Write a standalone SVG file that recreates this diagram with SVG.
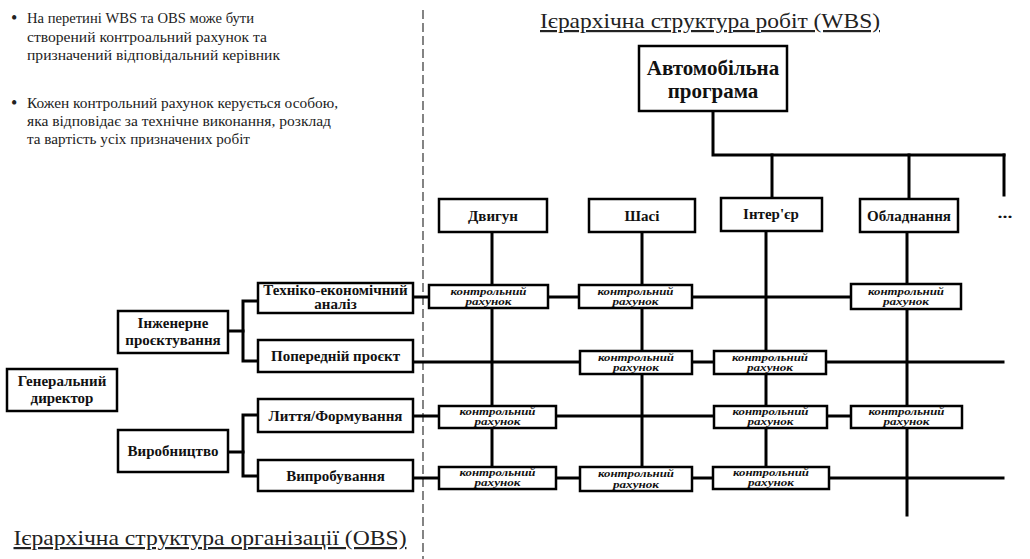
<svg xmlns="http://www.w3.org/2000/svg" width="1030" height="559" viewBox="0 0 1030 559">
  <style>
    .box { fill: #fff; stroke: #000; stroke-width: 2.5; }
    .wire { fill: none; stroke: #000; stroke-width: 3; stroke-linecap: square; }
    .sep { fill: none; stroke: #333; stroke-width: 1.2; stroke-dasharray: 9 4; }
    .lbl { font-family: "Liberation Serif", "DejaVu Serif", serif; font-weight: bold; font-size: 15px; fill: #111; text-anchor: middle; }
    .big { font-size: 21px; }
    .ca { font-family: "Liberation Serif", "DejaVu Serif", serif; font-weight: bold; font-style: italic; font-size: 10.5px; fill: #111; text-anchor: middle; }
    .note { font-family: "Liberation Serif", "DejaVu Serif", serif; font-size: 15px; fill: #222; }
    .bullet { font-family: "Liberation Serif", "DejaVu Serif", serif; font-size: 18px; fill: #222; }
    .title { font-family: "Liberation Serif", "DejaVu Serif", serif; font-size: 22px; fill: #222; text-decoration: underline; text-anchor: middle; }
  </style>

  <!-- notes -->
  <g id="notes">
    <text class="bullet" x="11" y="24">•</text>
    <text class="note" x="27" y="23" textLength="227" lengthAdjust="spacingAndGlyphs">На перетині WBS та OBS може бути</text>
    <text class="note" x="27" y="42" textLength="240" lengthAdjust="spacingAndGlyphs">створений контроальний рахунок та</text>
    <text class="note" x="27" y="60" textLength="253" lengthAdjust="spacingAndGlyphs">призначений відповідальний керівник</text>
    <text class="bullet" x="11" y="109">•</text>
    <text class="note" x="27" y="108" textLength="311" lengthAdjust="spacingAndGlyphs">Кожен контрольний рахунок керується особою,</text>
    <text class="note" x="27" y="126" textLength="304" lengthAdjust="spacingAndGlyphs">яка відповідає за технічне виконання, розклад</text>
    <text class="note" x="27" y="144" textLength="223" lengthAdjust="spacingAndGlyphs">та вартість усіх призначених робіт</text>
  </g>

  <!-- section titles and divider -->
  <text class="title" x="710" y="28" textLength="340" lengthAdjust="spacingAndGlyphs">Ієрархічна структура робіт (WBS)</text>
  <text class="title" x="210" y="545" textLength="393" lengthAdjust="spacingAndGlyphs">Ієрархічна структура організації (OBS)</text>
  <line class="sep" x1="423" y1="10" x2="423" y2="559"/>

  <!-- connectors -->
  <g id="connectors" class="wire">
    <!-- WBS tree -->
    <polyline points="713,111 713,155 1004,155"/>
    <line x1="772" y1="155" x2="772" y2="198"/>
    <line x1="909" y1="155" x2="909" y2="199"/>
    <line x1="1004" y1="155" x2="1004" y2="195"/>
    <!-- OBS tree -->
    <polyline points="228,331 243,331"/>
    <polyline points="258,301 243,301 243,361 258,361"/>
    <polyline points="228,452 243,452"/>
    <polyline points="258,415 243,415 243,476 258,476"/>
    <!-- work package columns -->
    <line x1="492" y1="232" x2="492" y2="467"/>
    <line x1="642" y1="232" x2="642" y2="467"/>
    <line x1="766" y1="231" x2="766" y2="467"/>
    <line x1="907" y1="232" x2="907" y2="515"/>
    <!-- organisation rows -->
    <line x1="413" y1="297" x2="851" y2="297"/>
    <line x1="413" y1="362" x2="1003" y2="362"/>
    <line x1="413" y1="416" x2="851" y2="416"/>
    <line x1="413" y1="478" x2="1003" y2="478"/>
  </g>

  <!-- WBS nodes -->
  <g id="auto-program">
    <rect class="box" x="639" y="46" width="148" height="65"/>
    <text class="lbl big" x="713" y="75">Автомобільна</text>
    <text class="lbl big" x="713" y="98">програма</text>
  </g>
  <g id="engine">
    <rect class="box" x="439" y="199" width="108" height="33"/>
    <text class="lbl" x="493" y="221">Двигун</text>
  </g>
  <g id="chassis">
    <rect class="box" x="589" y="199" width="106" height="33"/>
    <text class="lbl" x="642" y="221">Шасі</text>
  </g>
  <g id="interior">
    <rect class="box" x="721" y="198" width="101" height="33"/>
    <text class="lbl" x="771" y="219">Інтер'єр</text>
  </g>
  <g id="equipment">
    <rect class="box" x="860" y="199" width="98" height="33"/>
    <text class="lbl" x="909" y="221">Обладнання</text>
  </g>
  <g id="more">
    <text class="lbl" x="1005" y="218" font-size="20" textLength="15" lengthAdjust="spacingAndGlyphs">...</text>
  </g>

  <!-- OBS nodes -->
  <g id="ceo">
    <rect class="box" x="7" y="369" width="110" height="42"/>
    <text class="lbl" x="62" y="386">Генеральний</text>
    <text class="lbl" x="62" y="403">директор</text>
  </g>
  <g id="engineering">
    <rect class="box" x="118" y="311" width="110" height="42"/>
    <text class="lbl" x="173" y="328">Інженерне</text>
    <text class="lbl" x="173" y="345">проєктування</text>
  </g>
  <g id="production">
    <rect class="box" x="118" y="430" width="110" height="42"/>
    <text class="lbl" x="173" y="456">Виробництво</text>
  </g>
  <g id="feasibility">
    <rect class="box" x="258" y="283" width="155" height="30"/>
    <text class="lbl" x="335.5" y="295">Техніко-економічний</text>
    <text class="lbl" x="335.5" y="309">аналіз</text>
  </g>
  <g id="preliminary-design">
    <rect class="box" x="258" y="340" width="155" height="32"/>
    <text class="lbl" x="335.5" y="361">Попередній проєкт</text>
  </g>
  <g id="casting">
    <rect class="box" x="258" y="399" width="155" height="33"/>
    <text class="lbl" x="335.5" y="421">Лиття/Формування</text>
  </g>
  <g id="testing">
    <rect class="box" x="258" y="460" width="155" height="31"/>
    <text class="lbl" x="335.5" y="481">Випробування</text>
  </g>

  <!-- control accounts -->
  <g id="ca-feasibility-engine">
    <rect class="box" x="429" y="285" width="119" height="23"/>
    <text class="ca" x="488.5" y="294.5" textLength="76" lengthAdjust="spacingAndGlyphs">контрольний</text>
    <text class="ca" x="488.5" y="304.5" textLength="46" lengthAdjust="spacingAndGlyphs">рахунок</text>
  </g>
  <g id="ca-feasibility-chassis">
    <rect class="box" x="579" y="285" width="113" height="23"/>
    <text class="ca" x="635.5" y="294.5" textLength="76" lengthAdjust="spacingAndGlyphs">контрольний</text>
    <text class="ca" x="635.5" y="304.5" textLength="46" lengthAdjust="spacingAndGlyphs">рахунок</text>
  </g>
  <g id="ca-feasibility-equipment">
    <rect class="box" x="851" y="284" width="110" height="25"/>
    <text class="ca" x="906" y="295" textLength="76" lengthAdjust="spacingAndGlyphs">контрольний</text>
    <text class="ca" x="906" y="305" textLength="46" lengthAdjust="spacingAndGlyphs">рахунок</text>
  </g>
  <g id="ca-preliminary-chassis">
    <rect class="box" x="580" y="351" width="112" height="23"/>
    <text class="ca" x="636" y="360.5" textLength="76" lengthAdjust="spacingAndGlyphs">контрольний</text>
    <text class="ca" x="636" y="370.5" textLength="46" lengthAdjust="spacingAndGlyphs">рахунок</text>
  </g>
  <g id="ca-preliminary-interior">
    <rect class="box" x="714" y="351" width="112" height="23"/>
    <text class="ca" x="770" y="360.5" textLength="76" lengthAdjust="spacingAndGlyphs">контрольний</text>
    <text class="ca" x="770" y="370.5" textLength="46" lengthAdjust="spacingAndGlyphs">рахунок</text>
  </g>
  <g id="ca-casting-engine">
    <rect class="box" x="439" y="406" width="117" height="22"/>
    <text class="ca" x="497.5" y="415" textLength="76" lengthAdjust="spacingAndGlyphs">контрольний</text>
    <text class="ca" x="497.5" y="425" textLength="46" lengthAdjust="spacingAndGlyphs">рахунок</text>
  </g>
  <g id="ca-casting-interior">
    <rect class="box" x="714" y="406" width="113" height="22"/>
    <text class="ca" x="770.5" y="415" textLength="76" lengthAdjust="spacingAndGlyphs">контрольний</text>
    <text class="ca" x="770.5" y="425" textLength="46" lengthAdjust="spacingAndGlyphs">рахунок</text>
  </g>
  <g id="ca-casting-equipment">
    <rect class="box" x="851" y="406" width="111" height="22"/>
    <text class="ca" x="906.5" y="415" textLength="76" lengthAdjust="spacingAndGlyphs">контрольний</text>
    <text class="ca" x="906.5" y="425" textLength="46" lengthAdjust="spacingAndGlyphs">рахунок</text>
  </g>
  <g id="ca-testing-engine">
    <rect class="box" x="439" y="467" width="117" height="22"/>
    <text class="ca" x="497.5" y="476" textLength="76" lengthAdjust="spacingAndGlyphs">контрольний</text>
    <text class="ca" x="497.5" y="486" textLength="46" lengthAdjust="spacingAndGlyphs">рахунок</text>
  </g>
  <g id="ca-testing-chassis">
    <rect class="box" x="580" y="467" width="112" height="24"/>
    <text class="ca" x="636" y="477" textLength="76" lengthAdjust="spacingAndGlyphs">контрольний</text>
    <text class="ca" x="636" y="488" textLength="46" lengthAdjust="spacingAndGlyphs">рахунок</text>
  </g>
  <g id="ca-testing-interior">
    <rect class="box" x="713" y="467" width="116" height="22"/>
    <text class="ca" x="771" y="476" textLength="76" lengthAdjust="spacingAndGlyphs">контрольний</text>
    <text class="ca" x="771" y="486" textLength="46" lengthAdjust="spacingAndGlyphs">рахунок</text>
  </g>
</svg>
